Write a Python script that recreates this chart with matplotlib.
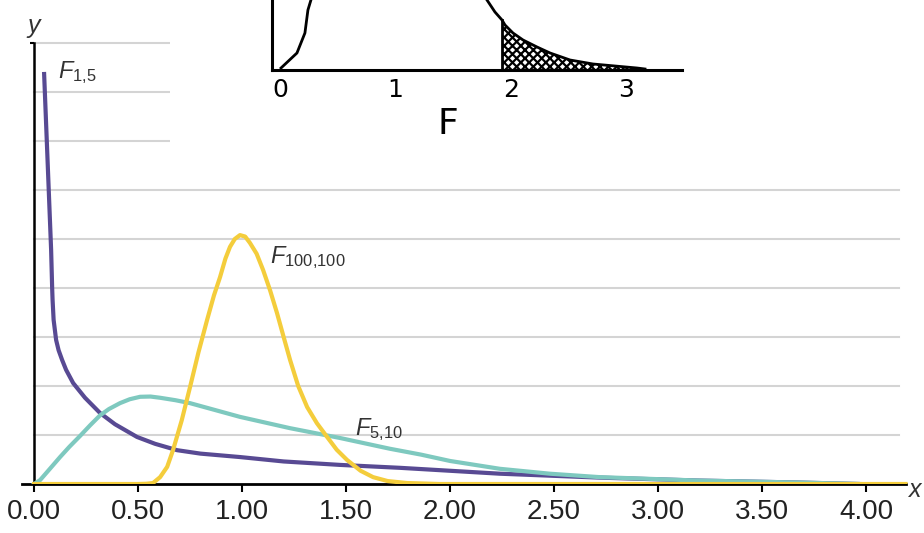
import matplotlib.pyplot as plt
import numpy as np

plt.rcParams['font.family'] = ['Liberation Sans', 'DejaVu Sans']
plt.rcParams['mathtext.fontset'] = 'custom'
plt.rcParams['mathtext.rm'] = 'Liberation Sans'
plt.rcParams['mathtext.it'] = 'Liberation Sans:italic'
plt.rcParams['hatch.linewidth'] = 1.6

# curves (x, height in grid steps)
f15_x = [0.048, 0.082, 0.087, 0.089, 0.094, 0.106, 0.118, 0.135, 0.154, 0.188, 0.245,
         0.317, 0.389, 0.495, 0.582, 0.688, 0.80, 0.99, 1.2, 1.47, 1.76, 2.0, 2.24,
         2.48, 2.72, 3.20, 3.68, 3.97]
f15_y = [8.41, 4.78, 4.0, 3.76, 3.35, 2.94, 2.73, 2.53, 2.33, 2.06, 1.76,
         1.45, 1.22, 0.96, 0.82, 0.69, 0.62, 0.55, 0.46, 0.39, 0.33, 0.27, 0.21,
         0.17, 0.13, 0.07, 0.03, 0.0]

f510_x = [0.0, 0.029, 0.07, 0.125, 0.17, 0.221, 0.27, 0.317, 0.36, 0.413, 0.46, 0.51,
          0.56, 0.606, 0.68, 0.75, 0.87, 0.99, 1.23, 1.47, 1.71, 1.86, 2.0, 2.24,
          2.48, 2.72, 3.20, 3.68, 3.97]
f510_y = [0.0, 0.08, 0.28, 0.55, 0.76, 0.98, 1.2, 1.40, 1.53, 1.65, 1.73, 1.78,
          1.785, 1.76, 1.71, 1.65, 1.51, 1.37, 1.14, 0.94, 0.72, 0.6, 0.47, 0.31,
          0.21, 0.14, 0.07, 0.03, 0.0]

f100_x = [0.0, 0.495, 0.54, 0.572, 0.606, 0.64, 0.668, 0.71, 0.75, 0.79, 0.832, 0.865,
          0.894, 0.92, 0.942, 0.965, 0.99, 1.015, 1.038, 1.07, 1.101, 1.135, 1.168,
          1.2, 1.231, 1.27, 1.313, 1.36, 1.409, 1.455, 1.505, 1.57, 1.63, 1.7, 1.793,
          1.95, 4.19]
f100_y = [0.0, 0.0, 0.005, 0.02, 0.14, 0.35, 0.69, 1.3, 1.98, 2.68, 3.35, 3.85,
          4.22, 4.6, 4.84, 5.0, 5.08, 5.05, 4.92, 4.7, 4.37, 3.95, 3.49,
          3.0, 2.53, 2.0, 1.57, 1.24, 0.96, 0.7, 0.49, 0.27, 0.14, 0.06, 0.02,
          0.0, 0.0]

x_ticks = [0.0, 0.5, 1.0, 1.5, 2.0, 2.5, 3.0, 3.5, 4.0]
x_labels = ['0.00', '0.50', '1.00', '1.50', '2.00', '2.50', '3.00', '3.50', '4.00']

# small inset picture (F, height)
in_left_x = [0.009, 0.147, 0.216, 0.242, 0.268]
in_left_y = [2, 17, 37, 60, 70]
in_right_x = [1.792, 1.861, 1.922, 1.948, 2.017, 2.104, 2.225, 2.338, 2.511, 2.71, 3.09, 3.16]
in_right_y = [70, 58, 50, 45, 37, 30, 23, 17, 10, 6, 2, 1]
in_cut = 1.92

purple = '#584a93'
teal = '#7ec9bf'
yellow = '#f4cd3c'
grid_c = '#d4d4d4'

fig = plt.figure(figsize=(9.24, 5.33), dpi=100)
ax = fig.add_axes([22/924, 49/533, 888/924, 464/533])
ax.set_xlim(-0.058, 4.2115)
ax.set_ylim(0, 9.47)

# grid lines (upper ones are hidden by the inset picture)
for g in range(1, 10):
    if g <= 6:
        ax.plot([0, 4.16], [g, g], color=grid_c, lw=1.5, zorder=1)
    else:
        ax.plot([0, 0.654], [g, g], color=grid_c, lw=1.5, zorder=1)

ax.plot(f15_x, f15_y, color=purple, lw=3, solid_capstyle='butt', zorder=3)
ax.plot(f510_x, f510_y, color=teal, lw=3, zorder=3)
ax.plot(f100_x, f100_y, color=yellow, lw=3, zorder=4)

for s in ['top', 'right']:
    ax.spines[s].set_visible(False)
ax.spines['left'].set_position(('data', 0))
ax.spines['left'].set_bounds(0, 9)
ax.spines['left'].set_linewidth(1.8)
ax.spines['bottom'].set_bounds(-0.058, 4.19)
ax.spines['bottom'].set_linewidth(2)

ax.set_xticks(x_ticks)
ax.set_xticklabels(x_labels, fontsize=20, color='#222222')
ax.tick_params(axis='x', length=6, width=1.5, pad=5)
ax.set_yticks([9])
ax.set_yticklabels([''])
ax.tick_params(axis='y', length=3, width=1.5)

ax.text(0.115, 8.29, r'$\mathit{F}_{1{,}5}$', fontsize=17, color='#333333', va='baseline')
ax.text(1.135, 4.51, r'$\mathit{F}_{100{,}100}$', fontsize=17, color='#333333', va='baseline')
ax.text(1.543, 1.0, r'$\mathit{F}_{5{,}10}$', fontsize=17, color='#333333', va='baseline')
ax.text(0.0, 9.35, 'y', fontsize=18, style='italic', color='#333333', ha='center', va='center')
ax.text(4.205, -0.12, 'x', fontsize=18, style='italic', color='#333333', va='center', clip_on=False)

# inset, partly cut off at the top edge
ax2 = fig.add_axes([170/924, 383/533, 530/924, 300/533])
ax2.set_xlim(-0.952, 3.636)
ax2.set_ylim(-80, 220)
ax2.patch.set_facecolor('white')
ax2.plot(in_left_x, in_left_y, color='black', lw=2)
ax2.plot(in_right_x, in_right_y, color='black', lw=2)
fx = np.array(in_right_x)
fy = np.array(in_right_y)
mask = fx >= in_cut
ax2.fill_between(fx[mask], 0, fy[mask], facecolor='white', edgecolor='black', hatch='xxxx', lw=0)
ax2.plot([in_cut, in_cut], [0, 50], color='black', lw=2)
for s in ['top', 'right']:
    ax2.spines[s].set_visible(False)
ax2.spines['left'].set_position(('data', -0.069))
ax2.spines['left'].set_bounds(0, 220)
ax2.spines['left'].set_linewidth(2.2)
ax2.spines['bottom'].set_position(('data', 0))
ax2.spines['bottom'].set_bounds(-0.069, 3.48)
ax2.spines['bottom'].set_linewidth(2.2)
ax2.set_xticks([0, 1, 2, 3])
ax2.set_xticklabels(['0', '1', '2', '3'], fontsize=18, family='DejaVu Sans')
ax2.tick_params(axis='x', length=0, pad=6)
ax2.set_yticks([])
ax2.text(1.45, -54, 'F', fontsize=26, family='DejaVu Sans', ha='center', va='center')

plt.savefig('out.png', dpi=100)
